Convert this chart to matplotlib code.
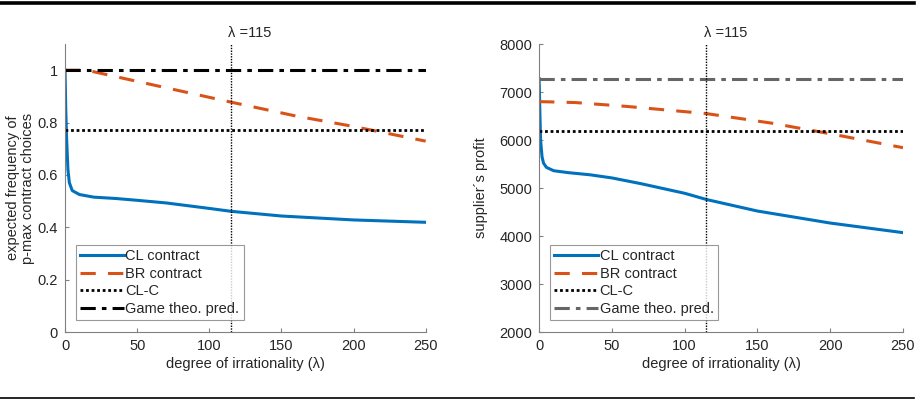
import matplotlib
matplotlib.use("Agg")
import matplotlib.pyplot as plt

plt.rcParams["font.family"] = ["Liberation Sans", "DejaVu Sans"]

# ─── data ───
lam = [0, 0.5, 1, 2, 3, 5, 10, 20, 35, 50, 70, 100, 115, 150, 200, 250]
cl_freq = [1.0, 0.85, 0.75, 0.62, 0.57, 0.54, 0.525, 0.515, 0.51, 0.503, 0.493,
           0.472, 0.461, 0.443, 0.428, 0.419]
lam_br = [0, 15, 60, 115, 160, 200, 250]
br_freq = [1.0, 1.0, 0.945, 0.878, 0.825, 0.785, 0.729]
clc_freq = 0.773
game_freq = 1.0

cl_profit = [7280, 6600, 6000, 5650, 5520, 5430, 5360, 5320, 5275, 5210, 5090,
             4890, 4760, 4520, 4270, 4070]
lam_br2 = [0, 25, 60, 115, 160, 200, 250]
br_profit = [6800, 6780, 6700, 6550, 6350, 6130, 5840]
clc_profit = 6180
game_profit = 7280

lam_mark = 115

BLUE = "#0072BD"
ORANGE = "#D95319"
TXT = "#262626"
AX = "#808080"
FS = 10.5

fig = plt.figure(figsize=(9.2, 4.0), dpi=100)
fig.patch.set_facecolor("white")

# rules above and below the figure
fig.add_artist(plt.Line2D([0, 0.993], [0.993, 0.993], color="black", lw=2.6,
                          transform=fig.transFigure))
fig.add_artist(plt.Line2D([0, 0.993], [0.006, 0.006], color="black", lw=1.2,
                          transform=fig.transFigure))

ax1 = fig.add_axes([0.0707, 0.17, 0.392, 0.72])
ax2 = fig.add_axes([0.586, 0.17, 0.3955, 0.72])


def style(ax):
    for s in ("top", "right"):
        ax.spines[s].set_visible(False)
    for s in ("left", "bottom"):
        ax.spines[s].set_color(AX)
        ax.spines[s].set_linewidth(0.8)
    ax.tick_params(colors=AX, labelcolor=TXT, labelsize=FS, direction="in",
                   length=3, width=0.8, pad=5)
    ax.set_xlim(0, 250)
    ax.set_xticks([0, 50, 100, 150, 200, 250])
    ax.set_xlabel("degree of irrationality (\u03bb)", color=TXT, fontsize=FS,
                  labelpad=3)


def legend(ax):
    leg = ax.legend(loc="lower left", bbox_to_anchor=(0.03, 0.04), fontsize=FS,
                    frameon=True, fancybox=False, handlelength=3.0,
                    handletextpad=0.1, borderpad=0.3, labelspacing=0.25,
                    borderaxespad=0)
    leg.get_frame().set_edgecolor(AX)
    leg.get_frame().set_linewidth(0.8)
    for t in leg.get_texts():
        t.set_color(TXT)


# ─── left panel ───
ax = ax1
style(ax)
ax.set_ylim(0, 1.1)
ax.set_yticks([0, 0.2, 0.4, 0.6, 0.8, 1])
ax.set_yticklabels(["0", "0.2", "0.4", "0.6", "0.8", "1"])
ax.plot(lam, cl_freq, color=BLUE, lw=2.2, label="CL contract")
ax.plot(lam_br, br_freq, color=ORANGE, lw=2.2, ls=(0, (5, 4)), label="BR contract")
ax.axhline(clc_freq, color="black", lw=2.0, ls=(0, (1, 1)), label="CL-C")
ax.axhline(game_freq, color="black", lw=2.2, ls=(0, (5, 2, 1.5, 2)),
           label="Game theo. pred.")
ax.axvline(lam_mark, color="black", lw=1.0, ls=(0, (1, 1)))
ax.text(lam_mark - 2, 1.115, "\u03bb =115", ha="left", va="bottom", fontsize=FS,
        color=TXT)
ax.set_ylabel("expected frequency of\np-max contract choices", color=TXT,
              fontsize=FS, labelpad=2, linespacing=1.1)
legend(ax)

# ─── right panel ───
ax = ax2
style(ax)
ax.set_ylim(2000, 8000)
ax.set_yticks(range(2000, 8001, 1000))
ax.plot(lam, cl_profit, color=BLUE, lw=2.2, label="CL contract")
ax.plot(lam_br2, br_profit, color=ORANGE, lw=2.2, ls=(0, (5, 4)), label="BR contract")
ax.axhline(clc_profit, color="black", lw=2.0, ls=(0, (1, 1)), label="CL-C")
ax.axhline(game_profit, color="#666666", lw=2.2, ls=(0, (5, 2, 1.5, 2)),
           label="Game theo. pred.")
ax.axvline(lam_mark, color="black", lw=1.0, ls=(0, (1, 1)))
ax.text(lam_mark - 2, 8090, "\u03bb =115", ha="left", va="bottom", fontsize=FS,
        color=TXT)
ax.set_ylabel("supplier\u00b4s profit", color=TXT, fontsize=FS, labelpad=8)
legend(ax)

fig.savefig("out.png", dpi=100, facecolor="white")
plt.close(fig)
